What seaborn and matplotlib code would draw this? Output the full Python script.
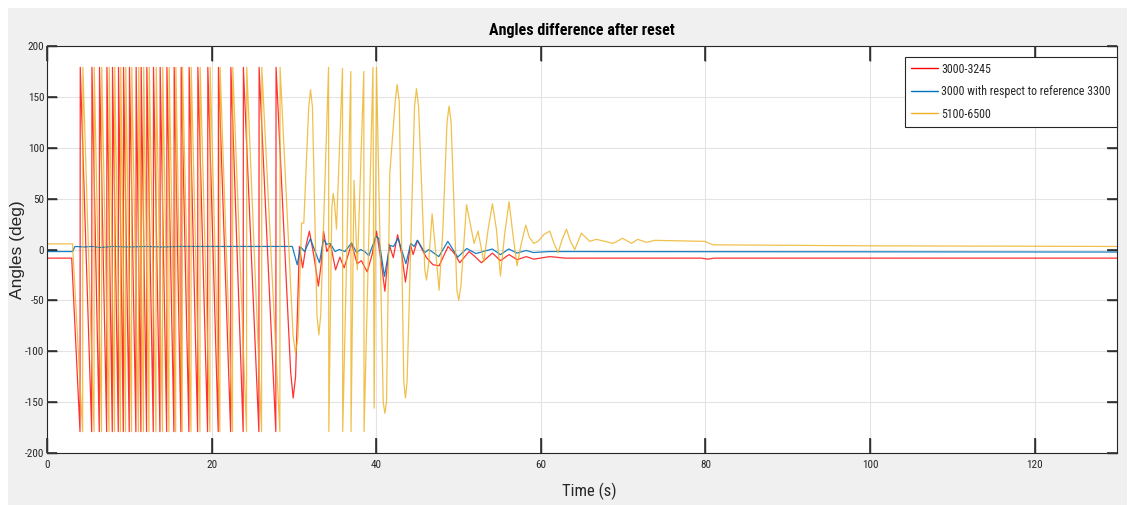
import numpy as np
import pandas as pd
import matplotlib
matplotlib.use("Agg")
import matplotlib.pyplot as plt
from matplotlib import font_manager
from matplotlib.patches import Rectangle
from matplotlib.lines import TICKUP, TICKDOWN, TICKLEFT, TICKRIGHT
import seaborn as sns

# ---------------- data ----------------
title = "Angles difference after reset"
xlabel = "Time (s)"
ylabel = "Angles (deg)"
labels = ["3000-3245", "3000 with respect to reference 3300", "5100-6500"]
colors = ["#FF0000", "#0072BD", "#EDB120"]
xticks = [0, 20, 40, 60, 80, 100, 120]
yticks = [-200, -150, -100, -50, 0, 50, 100, 150, 200]

red_pre_t = [0.0, 3.0]
red_pre_y = [-8.5, -8.5]
red_wrap_t = [4.01, 5.43, 6.35, 7.25, 7.93, 8.66, 9.27, 9.99, 10.80, 11.41, 12.10,
              12.91, 13.72, 14.54, 15.42, 16.27, 17.24, 18.30, 19.51, 20.80, 22.31,
              23.83, 25.74, 27.80]
red_tail_t = [29.6, 29.91, 30.2, 30.66, 31.06, 31.5, 31.88, 32.4, 32.97, 33.3, 33.60,
              34.00, 34.45, 35.06, 35.58, 36.10, 36.6, 37.00, 37.68, 38.20, 38.90,
              39.5, 40.03, 40.6, 41.05, 41.58, 42.07, 42.60, 43.1, 43.55, 44.16, 44.48,
              45.01, 46.10, 46.90, 47.64, 48.73, 49.5, 50.15, 51.28, 52.0, 52.78,
              54.12, 55.09, 56.14, 57.11, 58.24, 59.13, 61.08, 63.0, 79.5, 80.3,
              81.0, 130.0]
red_tail_y = [-120, -146, -125, 3, -18, 5, 18, -5, -36, -15, 18,
              -2, 5, -20, -7.5, -18, -5, 6, -14, -11, -22,
              -5, 18, -12, -41, 5, -8, 14.5, -5, -32, 5, -5,
              9, -8, -15, -16, 3, -4, -13, -2, -7, -13,
              -3.5, -11, -5, -10, -7, -9.5, -7, -8.5, -8.5, -9.5,
              -8.5, -8.5]

blue_t = [0.0, 3.1, 3.4, 4.5, 5.5, 6.5, 8.0, 10.0, 12.0, 14.0, 16.0, 18.0, 20.0, 25.0,
          29.8, 30.4, 30.8, 31.3, 32.0, 33.1, 33.6, 34.0, 34.4, 35.0, 35.5, 36.2,
          37.0, 37.6, 38.1, 38.6, 39.1, 40.0, 40.3, 41.0, 41.65, 42.1, 42.66, 43.6,
          44.2, 44.6, 45.0, 45.9, 46.4, 47.6, 48.7, 49.9, 51.0, 52.1, 53.0, 54.1,
          55.1, 56.1, 57.1, 58.2, 59.1, 61.0, 130.0]
blue_y = [-2, -2, 3, 2.5, 3, 2, 3, 2.5, 3, 2.5, 3, 3, 3, 3,
          3, -15, 2.4, -2, 10.5, -13, 10, 5, 6, -2, 0, -2,
          6.5, -3, 0, -2, -6, 13, 11, -26.5, 4, 3, 11, -14,
          6, 3, 9, -3, 0, -7, 8, -7.5, 1, -4, -2, 0.5,
          -5, 0.5, -3.5, -1, -3, -2, -2.5]

orange_pre_t = [0.0, 3.1]
orange_pre_y = [5.5, 5.5]
orange_wrap_t = [4.33, 5.71, 6.62, 7.53, 8.20, 8.93, 9.54, 10.27, 11.11, 11.72, 12.39,
                 13.24, 14.03, 14.81, 15.63, 16.43, 17.49, 18.58, 19.79, 21.00, 22.54,
                 24.24, 26.07, 28.29]
orange_tail_t = [29.9, 30.20, 30.5, 30.93, 31.20, 31.8, 32.02, 32.25, 32.8, 33.03, 33.25,
                 34.21, 34.24, 34.6, 34.77, 34.95, 35.17, 35.90,
                 35.93, 36.91, 36.94, 37.30, 37.70, 38.49, 38.52, 39.60, 39.75, 40.03,
                 40.85, 41.05, 41.25, 41.65, 42.3, 42.54, 42.8, 43.35, 43.55, 43.75,
                 44.65, 44.89, 45.15, 45.9, 46.11, 46.35, 46.79, 47.2, 47.64, 48.1,
                 48.6, 48.85, 49.1, 49.8, 50.03, 50.3, 50.97, 51.89, 52.37, 53.07,
                 53.6, 54.12, 54.6, 55.09, 55.6, 56.14, 56.6, 57.11, 57.6, 58.17, 58.6,
                 59.14, 59.66, 60.4, 61.08, 61.6, 62.09, 62.6, 63.11, 63.6, 64.12,
                 64.93, 65.94, 66.75, 68.77, 69.94, 71.00, 71.77, 72.82, 73.83, 79.90,
                 80.90, 100.0, 130.0]
orange_tail_y = [-85, -102, -85, 26, 26, 140, 157, 140, -65, -84, -65,
                 179, -179, 40, 55, 45, 20, 178,
                 -179, 175, -179, 68, -20, 175, -179, 179, -156, 179,
                 -150, -161, -150, 75, 145, 162, 145, -130, -146, -130,
                 140, 158, 140, -20, -30, -15, 35, 0, -40, 20,
                 125, 141, 125, -40, -50, -35, 44, 6, 18, -12,
                 20, 45, 20, -26, 15, 47, 15, -16, 5, 24, 12,
                 6, 8, 15, 18, 6, -3, 10, 20, 8, 0,
                 16, 8, 10, 6, 11, 6, 10, 7, 9, 8,
                 4.6, 3.6, 3.0]

def sawtooth(pre_t, pre_y, wraps, tail_t, tail_y, top=179.0, jump=0.03):
    tt = list(pre_t)
    yy = list(pre_y)
    for w in wraps:
        tt += [w, w + jump]
        yy += [-top, top]
    tt += list(tail_t)
    yy += list(tail_y)
    return pd.DataFrame({"t": tt, "y": yy})

red_df = sawtooth(red_pre_t, red_pre_y, red_wrap_t, red_tail_t, red_tail_y)
blue_df = pd.DataFrame({"t": blue_t, "y": blue_y})
orange_df = sawtooth(orange_pre_t, orange_pre_y, orange_wrap_t, orange_tail_t, orange_tail_y)

dark = "#262626"
sns.set_style("whitegrid")
names = sorted({f.name for f in font_manager.fontManager.ttflist})
narrow = None
for cand in ["Liberation Sans Narrow", "Roboto Condensed", "Open Sans Condensed",
             "Noto Sans Condensed", "DejaVu Sans Condensed"]:
    if cand in names:
        narrow = cand
        break
if narrow is None:
    cands = [n for n in names if ("Narrow" in n or "Condensed" in n)]
    narrow = cands[0] if cands else "Liberation Sans"
plt.rcParams.update({
    "font.family": [narrow, "DejaVu Sans"],
    "axes.unicode_minus": False,
})

W, H = 1135, 505
fig = plt.figure(figsize=(W / 100, H / 100), dpi=100, facecolor="white")
fig.patches.append(Rectangle((8 / W, 0), (1127 - 8) / W, (505 - 8) / H,
                             transform=fig.transFigure, facecolor="#f0f0f0",
                             edgecolor="none", zorder=-10))
ax = fig.add_axes([47 / W, 1 - 453 / H, (1117 - 47) / W, (453 - 46) / H])
ax.set_facecolor("white")

for df, lab, col, a in [(red_df, labels[0], colors[0], 0.8),
                        (blue_df, labels[1], colors[1], 0.9),
                        (orange_df, labels[2], colors[2], 0.8)]:
    sns.lineplot(data=df, x="t", y="y", sort=False, estimator=None, color=col,
                 lw=0.9, alpha=a, label=lab, ax=ax)

ax.set_xlim(0, 130)
ax.set_ylim(-200, 200)
ax.set_xticks(xticks)
ax.set_yticks(yticks)
ax.grid(True, color="#e3e3e3", lw=0.8)

for s in ax.spines.values():
    s.set_color(dark)
    s.set_linewidth(0.8)
    s.set_visible(True)

ax.tick_params(axis="both", which="major", direction="in", top=True, right=True,
               bottom=True, left=True, colors=dark, labelsize=8, width=1.0)
ax.tick_params(axis="x", which="major", length=10.8, pad=5)
ax.tick_params(axis="y", which="major", length=7.2, pad=2)

ax.set_title(title, fontsize=11.5, fontweight="bold", color="black", pad=8)
ax.set_xlabel(xlabel, fontsize=12, color=dark)
ax.xaxis.set_label_coords(0.507, -0.072)
ax.set_ylabel(ylabel, fontsize=12.5, color=dark, family=["Liberation Sans", "DejaVu Sans"])
ax.yaxis.set_label_coords(-0.021, 0.5)

leg = ax.legend(loc="upper right", bbox_to_anchor=(1.0, 0.974), borderaxespad=0,
                frameon=True, fancybox=False, framealpha=1, fontsize=8.6,
                handlelength=2.3, handletextpad=0.25, labelspacing=0.8,
                borderpad=0.5)
leg.get_frame().set_edgecolor(dark)
leg.get_frame().set_linewidth(0.8)
for h in leg.get_lines():
    h.set_linewidth(1.0)
    h.set_alpha(1)
for txt in leg.get_texts():
    txt.set_color(dark)

# inward tick marks on all four sides at the tick positions
xt = ax.get_xaxis_transform()
yt = ax.get_yaxis_transform()
kw = dict(ls="none", color="#333333", mew=1.2, clip_on=False, zorder=5)
ax.plot(xticks, [0] * len(xticks), marker=TICKUP, ms=10.8, transform=xt, **kw)
ax.plot(xticks, [1] * len(xticks), marker=TICKDOWN, ms=10.8, transform=xt, **kw)
ax.plot([0] * len(yticks), yticks, marker=TICKRIGHT, ms=7.2, transform=yt, **kw)
ax.plot([1] * len(yticks), yticks, marker=TICKLEFT, ms=7.2, transform=yt, **kw)
ax.set_xlim(0, 130)
ax.set_ylim(-200, 200)

fig.savefig("out.png", dpi=100, facecolor=fig.get_facecolor())
